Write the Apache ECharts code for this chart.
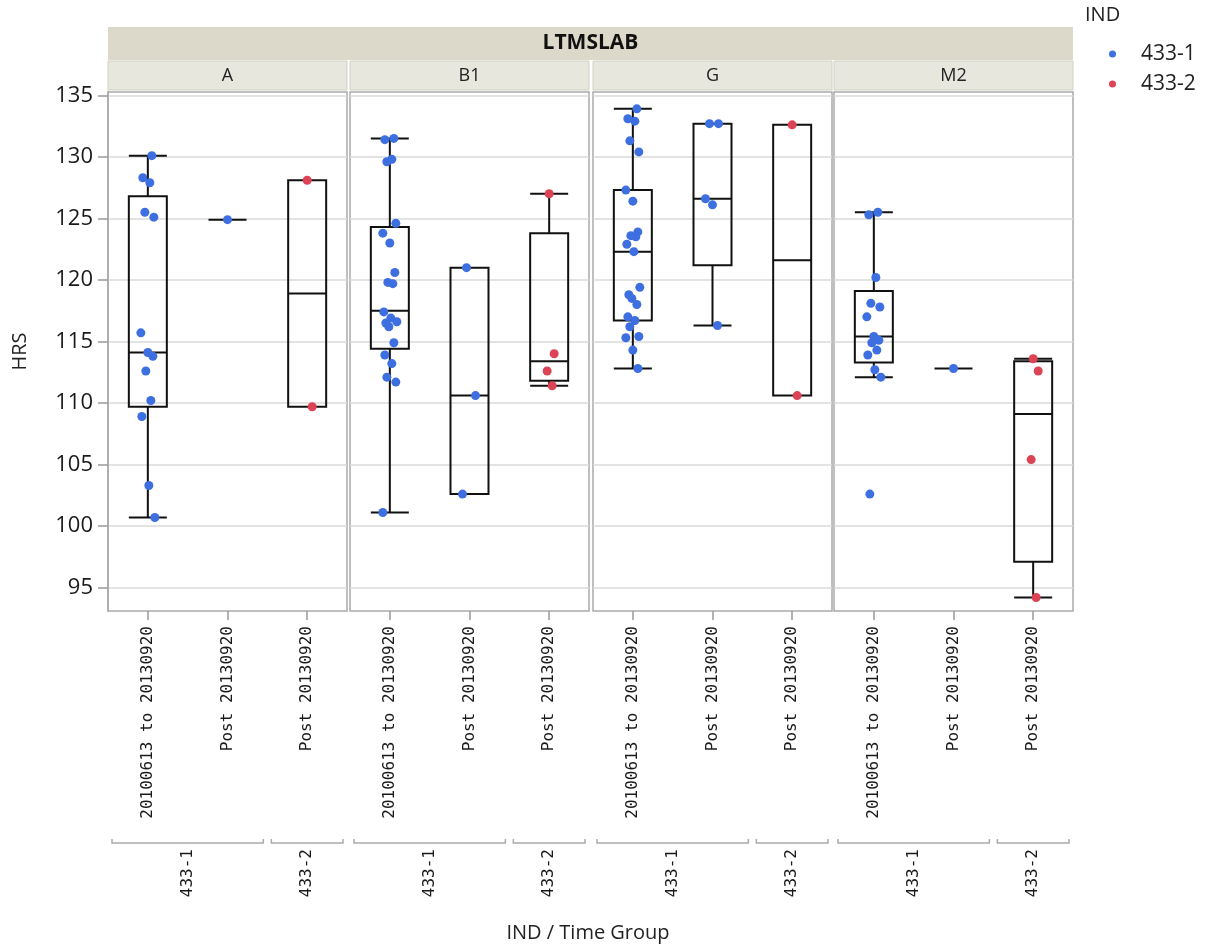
<!DOCTYPE html>
<html><head><meta charset="utf-8">
<script src="https://cdn.jsdelivr.net/npm/echarts@6/dist/echarts.min.js"></script>
<style>html,body{margin:0;padding:0;background:#fff}#c{width:1206px;height:945px}</style>
</head><body><div id="c"></div>
<script>
// ---------------- data ----------------
const panels = ['A', 'B1', 'G', 'M2'];
const timeGroups = ['20100613 to 20130920', 'Post 20130920', 'Post 20130920'];
const indGroups = ['433-1', '433-2'];
const yTicks = [95, 100, 105, 110, 115, 120, 125, 130, 135];

// observed HRS values: [cat0 (433-1 2010-2013), cat1 (433-1 Post), cat2 (433-2 Post)]
const ptsA = [
  [130.1, 128.3, 127.9, 125.5, 125.1, 115.7, 114.1, 113.8, 112.6, 110.2, 108.9, 103.3, 100.7],
  [124.9],
  [128.1, 109.7]
];
const ptsB1 = [
  [131.5, 131.4, 129.8, 129.6, 124.6, 123.8, 123.0, 120.6, 119.8, 119.7, 117.4, 116.9, 116.6, 116.5, 116.2, 114.9, 113.9, 113.2, 112.1, 111.7, 101.1],
  [121.0, 110.6, 102.6],
  [127.0, 114.0, 112.6, 111.4]
];
const ptsG = [
  [133.9, 133.1, 132.9, 131.3, 130.4, 127.3, 126.4, 123.9, 123.6, 123.5, 122.9, 122.3, 119.4, 118.8, 118.5, 118.0, 117.0, 116.7, 116.2, 115.4, 115.3, 114.3, 112.8],
  [132.7, 132.7, 126.6, 126.1, 116.3],
  [132.6, 110.6]
];
const ptsM2 = [
  [125.5, 125.3, 120.2, 118.1, 117.8, 117.0, 115.4, 115.1, 114.9, 114.3, 113.9, 112.7, 112.1, 102.6],
  [112.8],
  [113.6, 112.6, 105.4, 94.2]
];

// box statistics: [lower whisker, Q1, median, Q3, upper whisker]
const boxA = [[100.7, 109.7, 114.1, 126.8, 130.1], [124.9, 124.9, 124.9, 124.9, 124.9], [109.7, 109.7, 118.9, 128.1, 128.1]];
const boxB1 = [[101.1, 114.4, 117.5, 124.3, 131.5], [102.6, 102.6, 110.6, 121.0, 121.0], [111.4, 111.8, 113.4, 123.8, 127.0]];
const boxG = [[112.8, 116.7, 122.3, 127.3, 133.9], [116.3, 121.2, 126.6, 132.7, 132.7], [110.6, 110.6, 121.6, 132.6, 132.6]];
const boxM2 = [[112.1, 113.3, 115.4, 119.1, 125.5], [112.8, 112.8, 112.8, 112.8, 112.8], [94.2, 97.1, 109.1, 113.4, 113.6]];

const allPts = [ptsA, ptsB1, ptsG, ptsM2];
const allBox = [boxA, boxB1, boxG, boxM2];

// ---------------- layout / style ----------------
const PL = [108, 350, 593, 834];
const PW = 239, PT = 92, PH = 519;
const YMIN = 93.1, YMAX = 135.27;
const BLUE = '#3d6fe0', RED = '#dc4354';
const SANS = '"Open Sans", "Noto Sans", sans-serif';
const MONO = '"DejaVu Sans Mono", monospace';

function jit(k, n) {
  if (n === 1) return 0;
  const pat = [4, -5, 2, -3, 6, -7, 0, 5, -2, 3, -6, 1, 7, -4, -1];
  return pat[k % pat.length];
}

const grids = [], xAxes = [], yAxes = [], series = [];
panels.forEach((p, i) => {
  grids.push({left: PL[i], top: PT, width: PW, height: PH, show: true,
    borderColor: '#ababab', borderWidth: 1.5, backgroundColor: '#fff'});
  xAxes.push({type: 'category', gridIndex: i, data: timeGroups,
    axisLine: {show: false},
    axisTick: {show: true, alignWithLabel: true, length: 9, lineStyle: {color: '#999', width: 1.5}},
    axisLabel: {interval: 0, rotate: 90, margin: 15, fontFamily: MONO, fontSize: 16, color: '#1a1a1a'},
    splitLine: {show: false}});
  yAxes.push({type: 'value', gridIndex: i, min: YMIN, max: YMAX, minInterval: 5, maxInterval: 5,
    name: i === 0 ? 'HRS' : '', nameLocation: 'middle', nameGap: 78, nameRotate: 90,
    nameTextStyle: {fontFamily: SANS, fontSize: 20, color: '#222'},
    axisLine: {show: i === 0, lineStyle: {color: '#aaa', width: 1.5}},
    axisTick: {show: i === 0, customValues: yTicks, length: 10, lineStyle: {color: '#999', width: 1.5}},
    axisLabel: {show: i === 0, customValues: yTicks, margin: 15, fontFamily: SANS, fontSize: 22, color: '#1a1a1a'},
    splitLine: {show: true, customValues: yTicks, lineStyle: {color: '#dadada', width: 1.5}}});

  series.push({type: 'boxplot', xAxisIndex: i, yAxisIndex: i, data: allBox[i],
    boxWidth: [38, 38], silent: true, z: 2,
    itemStyle: {color: 'rgba(0,0,0,0)', borderColor: '#111', borderWidth: 2}});

  const d1 = [], d2 = [];
  allPts[i].forEach((vals, c) => {
    vals.forEach((v, k) => {
      const item = {value: [c, v], symbolOffset: [jit(k + c * 3, vals.length), 0]};
      (c < 2 ? d1 : d2).push(item);
    });
  });
  series.push({type: 'scatter', name: indGroups[0], xAxisIndex: i, yAxisIndex: i, data: d1,
    symbol: 'circle', symbolSize: 9, itemStyle: {color: BLUE, opacity: 1}, z: 3, silent: true});
  series.push({type: 'scatter', name: indGroups[1], xAxisIndex: i, yAxisIndex: i, data: d2,
    symbol: 'circle', symbolSize: 9, itemStyle: {color: RED, opacity: 1}, z: 3, silent: true});
});

// headers, secondary labels, titles
const gfx = [];
gfx.push({type: 'rect', shape: {x: PL[0], y: 27, width: PL[3] + PW - PL[0], height: 33},
  style: {fill: '#dcd9ca'}, silent: true});
gfx.push({type: 'text', x: (PL[0] + PL[3] + PW) / 2, y: 43.5,
  style: {text: 'LTMSLAB', fontFamily: SANS, fontWeight: 'bold', fontSize: 21, fill: '#111',
    textAlign: 'center', textVerticalAlign: 'middle'}, silent: true});
panels.forEach((p, i) => {
  gfx.push({type: 'rect', shape: {x: PL[i], y: 61, width: PW, height: 29},
    style: {fill: '#e8e7de', stroke: '#d2d1c8', lineWidth: 1}, silent: true});
  gfx.push({type: 'text', x: PL[i] + PW / 2, y: 75.5,
    style: {text: p, fontFamily: SANS, fontSize: 18, fill: '#222', textAlign: 'center', textVerticalAlign: 'middle'}, silent: true});
  const w = PW / 3, yb = 843;
  const spans = [[PL[i] + 4, PL[i] + 2 * w - 4, PL[i] + w, indGroups[0]],
                 [PL[i] + 2 * w + 4, PL[i] + 3 * w - 4, PL[i] + 2.5 * w, indGroups[1]]];
  spans.forEach(s => {
    gfx.push({type: 'polyline', shape: {points: [[s[0], yb - 4], [s[0], yb], [s[1], yb], [s[1], yb - 4]]},
      style: {stroke: '#aaa', lineWidth: 1.5, fill: null}, silent: true});
    gfx.push({type: 'text', x: s[2], y: 849, rotation: Math.PI / 2,
      style: {text: s[3], fontFamily: MONO, fontSize: 16, fill: '#1a1a1a', textAlign: 'right', textVerticalAlign: 'middle'}, silent: true});
  });
});
gfx.push({type: 'text', x: 588, y: 933,
  style: {text: 'IND / Time Group', fontFamily: SANS, fontSize: 20, fill: '#222', textAlign: 'center', textVerticalAlign: 'middle'}, silent: true});
gfx.push({type: 'text', x: 1085, y: 15,
  style: {text: 'IND', fontFamily: SANS, fontSize: 20, fill: '#222', textAlign: 'left', textVerticalAlign: 'middle'}, silent: true});

const chart = echarts.init(document.getElementById('c'), null, {renderer: 'canvas'});
chart.setOption({
  animation: false,
  backgroundColor: '#fff',
  grid: grids, xAxis: xAxes, yAxis: yAxes, series: series,
  legend: {data: indGroups, orient: 'vertical', left: 1104, top: 38, icon: 'circle',
    itemWidth: 7, itemHeight: 7, itemGap: 8,
    textStyle: {fontFamily: SANS, fontSize: 21, color: '#222', lineHeight: 22, padding: [0, 0, 0, 20]}},
  graphic: gfx
});
</script></body></html>
